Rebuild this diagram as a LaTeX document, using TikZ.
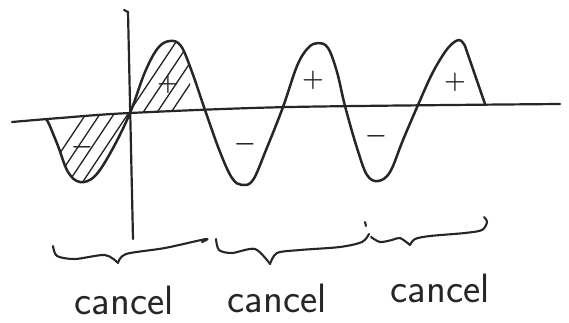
\documentclass[tikz,border=0pt]{standalone}
\usetikzlibrary{positioning}
\definecolor{Ink}{RGB}{38,38,38}

\begin{document}
\begin{tikzpicture}[x=1pt,y=-1pt,
    ink/.style={draw=Ink,line width=2.5pt,line cap=round,line join=round},
    axisline/.style={draw=Ink,line width=2.2pt,line cap=round},
    hatchline/.style={draw=Ink,line width=1.3pt,line cap=round},
    bracepath/.style={draw=Ink,line width=2.1pt,line cap=round,line join=round},
    sign/.style={font=\fontsize{24}{26}\selectfont\boldmath,text=Ink,inner sep=0pt},
    word/.style={font=\fontsize{41}{43}\selectfont\sffamily,text=Ink,anchor=base,inner sep=0pt}
  ]
  \useasboundingbox (0,0) rectangle (569,323);

  % axes
  \draw[axisline] plot[smooth] coordinates {(12,122) (60,118) (130,113) (290,107) (560,104)};
  \draw[axisline] (124,10) -- (128,12) -- (133,239);

  % hatched lobes
  \begin{scope}
    \clip (50,0) rectangle (190,300);
    \clip plot[smooth,tension=0.6] coordinates {(47,121) (58,146) (68,172) (80,182) (95,176)
      (112,150) (130,113) (145,72) (158,48) (170,41) (181,46) (192,72) (205,110)}
      -- (130,113) -- (47,120) -- cycle;
    \foreach \s in {62,76,...,146}
      \draw[hatchline] (\s-60,240) -- (\s+90,15);
  \end{scope}

  % wave
  \draw[ink] plot[smooth,tension=0.6] coordinates {(46,119) (49,124) (58,146) (68,172) (80,182)
    (95,176) (112,150) (130,113) (145,72) (158,48) (170,41) (181,46) (192,72) (205,110)
    (220,152) (232,178) (242,185) (253,180) (266,150) (283,107) (297,66) (308,48) (318,43)
    (328,48) (337,72) (345,106) (357,148) (367,175) (378,181) (390,172) (403,140) (418,105)
    (433,72) (448,48) (459,40) (465,46)};
  \draw[ink] (465,46) -- (485,104);

  % signs
  \node[sign] (plusA) at (168,84) {$+$};
  \node[sign,font=\fontsize{30}{32}\selectfont\boldmath] (minusA) at (82,147) {$-$};
  \node[sign] (minusB) at (245,144) {$-$};
  \node[sign] (plusB) at (313,80) {$+$};
  \node[sign] (minusC) at (376,136) {$-$};
  \node[sign] (plusC) at (455,82) {$+$};

  % braces
  \draw[bracepath] plot[smooth] coordinates {(53,246) (57,256) (75,259) (105,255) (118,263)};
  \draw[bracepath] plot[smooth] coordinates {(118,263) (126,254) (165,248) (206,239) (202,242)};
  \draw[bracepath] plot[smooth] coordinates {(216,239) (219,250) (232,253) (255,249) (270,264)};
  \draw[bracepath] plot[smooth] coordinates {(270,264) (277,253) (300,250) (340,247) (362,242) (369,234)};
  \draw[bracepath] (365,222) -- (366,226);
  \draw[bracepath] plot[smooth] coordinates {(371,237) (380,242) (392,240) (400,238) (410,245)};
  \draw[bracepath] plot[smooth] coordinates {(410,245) (415,239) (430,236) (465,233) (482,230) (487,222) (484,217)};

  % labels
  \node[word] (cancelA) at (124,314) {cancel};
  \node[word] (cancelB) at (277,312) {cancel};
  \node[word] (cancelC) at (440,302) {cancel};
\end{tikzpicture}
\end{document}
